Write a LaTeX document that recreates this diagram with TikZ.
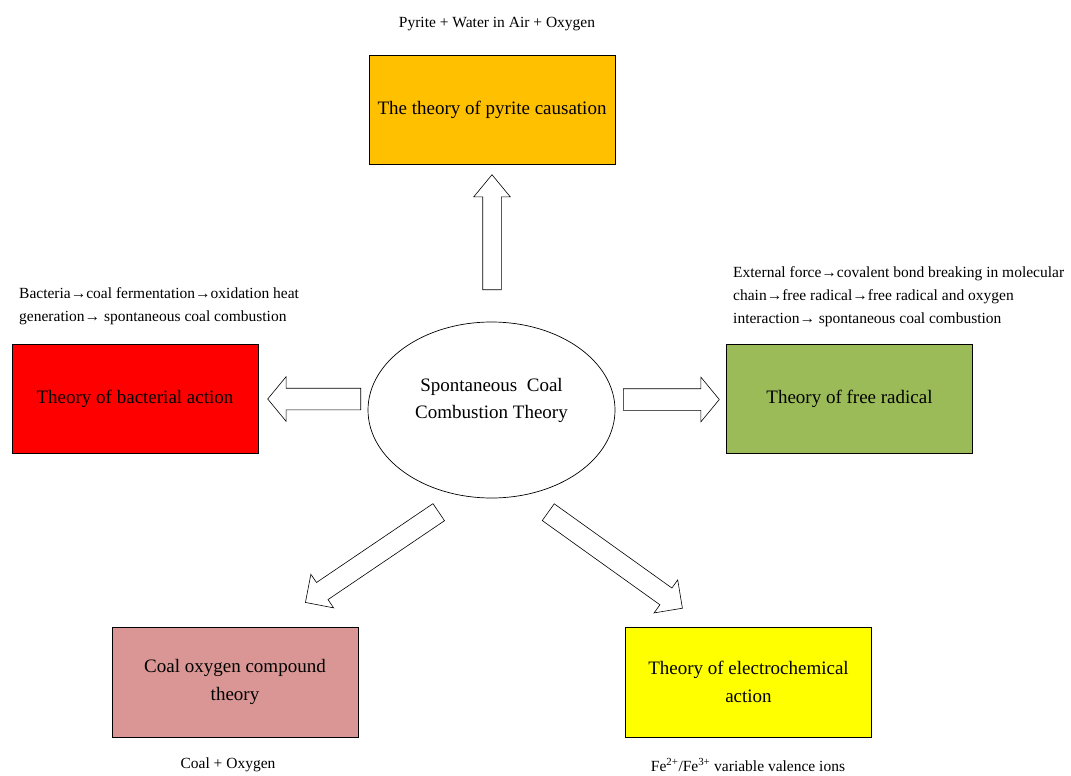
\documentclass[tikz,border=0pt]{standalone}
\usepackage{fontspec}
\setmainfont{Liberation Serif}
\usetikzlibrary{shapes.geometric, shapes.arrows}

\definecolor{pyriteC}{HTML}{FFC000}
\definecolor{bacteriaC}{HTML}{FF0000}
\definecolor{radicalC}{HTML}{9BBB59}
\definecolor{compoundC}{HTML}{D99694}
\definecolor{electroC}{HTML}{FFFF00}

\begin{document}
\begin{tikzpicture}[x=1pt, y=-1pt,
  theory/.style={draw, line width=0.7pt, minimum width=246pt, minimum height=109pt,
    align=center, font=\fontsize{19}{28}\selectfont},
  note/.style={inner sep=0pt, align=left, font=\fontsize{15.5}{23}\selectfont},
  blockarrow/.style={single arrow, draw, fill=white, line width=0.6pt, inner xsep=0pt, anchor=tail}]
\useasboundingbox (0,0) rectangle (1071,776);

% centre
\node[ellipse, draw, line width=0.7pt, minimum width=247pt, minimum height=176pt,
  label={[align=center, yshift=10pt, font=\fontsize{19}{27}\selectfont]center:Spontaneous\ \ Coal\\Combustion Theory}]
  (centre) at (491.5,410) {};

% theories
\node[theory, fill=pyriteC] (pyrite) at (492,109.5) {The theory of pyrite causation};
\node[theory, fill=bacteriaC] (bacteria) at (135,399) {Theory of bacterial action};
\node[theory, fill=radicalC] (radical) at (849.5,399) {Theory of free radical};
\node[theory, fill=compoundC, minimum height=110pt] (compound) at (235,682) {Coal oxygen compound\\theory};
\node[theory, fill=electroC, minimum height=110pt] (electro) at (748.5,682) {Theory of electrochemical\\action};

% notes
\node[note, align=center] (pyriteNote) at (497,24) {Pyrite + Water in Air + Oxygen};
\node[note, anchor=west] (bacteriaNote) at (19,306.5)
  {Bacteria→coal fermentation→oxidation heat\\generation→ spontaneous coal combustion};
\node[note, anchor=west] (radicalNote) at (733,297)
  {External force→covalent bond breaking in molecular\\chain→free radical→free radical and oxygen\\interaction→ spontaneous coal combustion};
\node[note, align=center] (compoundNote) at (228,765) {Coal + Oxygen};
\node[note, align=center] (electroNote) at (748,765) {Fe\textsuperscript{2+}/Fe\textsuperscript{3+} variable valence ions};

% block arrows
\node[blockarrow, rotate=90, minimum height=115pt, inner ysep=9pt,
  single arrow head extend=9pt, single arrow tip angle=79] (upArrow) at (492,290) {};
\node[blockarrow, rotate=180, minimum height=93pt, inner ysep=10.5pt,
  single arrow head extend=11.5pt, single arrow tip angle=101] (leftArrow) at (361,399) {};
\node[blockarrow, rotate=0, minimum height=96pt, inner ysep=10.5pt,
  single arrow head extend=11.5pt, single arrow tip angle=101] (rightArrow) at (623,399.5) {};
\node[blockarrow, rotate=214.1, minimum height=161pt, inner ysep=10pt,
  single arrow head extend=10pt, single arrow tip angle=90] (downLeftArrow) at (439,512) {};
\node[blockarrow, rotate=-35.6, minimum height=165pt, inner ysep=10pt,
  single arrow head extend=10pt, single arrow tip angle=90] (downRightArrow) at (548,512) {};
\end{tikzpicture}
\end{document}
